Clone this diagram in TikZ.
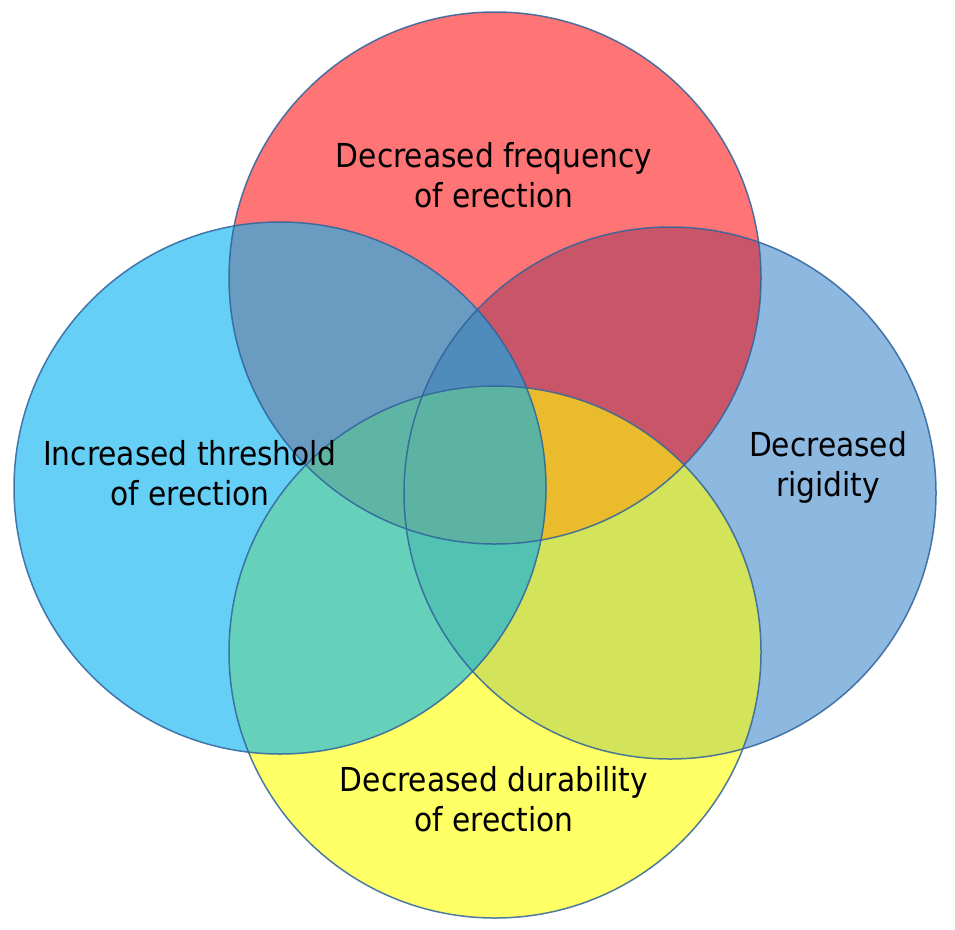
\documentclass[tikz,border=0pt]{standalone}
\usepackage{fontspec}
\setmainfont{DejaVu Sans Condensed}
\definecolor{cT}{HTML}{FF7575}
\definecolor{cL}{HTML}{66CFF5}
\definecolor{cR}{HTML}{8DB8E0}
\definecolor{cB}{HTML}{FFFF66}
\definecolor{cTL}{HTML}{6A9CC2}
\definecolor{cTR}{HTML}{C85668}
\definecolor{cLB}{HTML}{66D1BA}
\definecolor{cRB}{HTML}{D3E35A}
\definecolor{cTLR}{HTML}{4F8BBB}
\definecolor{cTRB}{HTML}{EABB2C}
\definecolor{cTLB}{HTML}{5FB5A4}
\definecolor{cLRB}{HTML}{52C3B3}
\definecolor{cAll}{HTML}{5DB3A2}
\definecolor{rim}{HTML}{2F639C}
\def\rad{266pt}
\begin{document}
\begin{tikzpicture}[x=1pt,y=-1pt,
    rimline/.style={draw=rim,line width=1.5pt,draw opacity=0.85},
    setlabel/.style={align=center,text=black,font=\fontsize{33}{40}\selectfont}]
    \useasboundingbox (0,0) rectangle (955,929);
    \coordinate (T) at (495,278);
    \coordinate (L) at (280,488);
    \coordinate (R) at (670,493);
    \coordinate (B) at (495,652);
    % single sets
    \fill[cT] (T) circle (\rad);
    \fill[cL] (L) circle (\rad);
    \fill[cR] (R) circle (\rad);
    \fill[cB] (B) circle (\rad);
    % pairs
    \begin{scope}
        \clip (T) circle (\rad);
        \fill[cTL] (L) circle (\rad);
        \fill[cTR] (R) circle (\rad);
        \fill[cTRB] (B) circle (\rad);
    \end{scope}
    \begin{scope}
        \clip (B) circle (\rad);
        \fill[cLB] (L) circle (\rad);
        \fill[cRB] (R) circle (\rad);
    \end{scope}
    % triples
    \begin{scope}
        \clip (T) circle (\rad);
        \clip (L) circle (\rad);
        \fill[cTLR] (R) circle (\rad);
        \fill[cTLB] (B) circle (\rad);
    \end{scope}
    \begin{scope}
        \clip (T) circle (\rad);
        \clip (R) circle (\rad);
        \fill[cTRB] (B) circle (\rad);
    \end{scope}
    \begin{scope}
        \clip (L) circle (\rad);
        \clip (R) circle (\rad);
        \fill[cLRB] (B) circle (\rad);
    \end{scope}
    % all four
    \begin{scope}
        \clip (T) circle (\rad);
        \clip (L) circle (\rad);
        \clip (R) circle (\rad);
        \fill[cAll] (B) circle (\rad);
    \end{scope}
    % outlines
    \foreach \c in {T,L,R,B}
        \draw[rimline] (\c) circle (\rad);
    \node[setlabel] (freq) at (494,175) {Decreased frequency\\of erection};
    \node[setlabel] (thresh) at (190,473) {Increased threshold\\of erection};
    \node[setlabel] (rigid) at (828,467) {Decreased\\rigidity};
    \node[setlabel] (durab) at (494,799) {Decreased durability\\of erection};
\end{tikzpicture}
\end{document}
